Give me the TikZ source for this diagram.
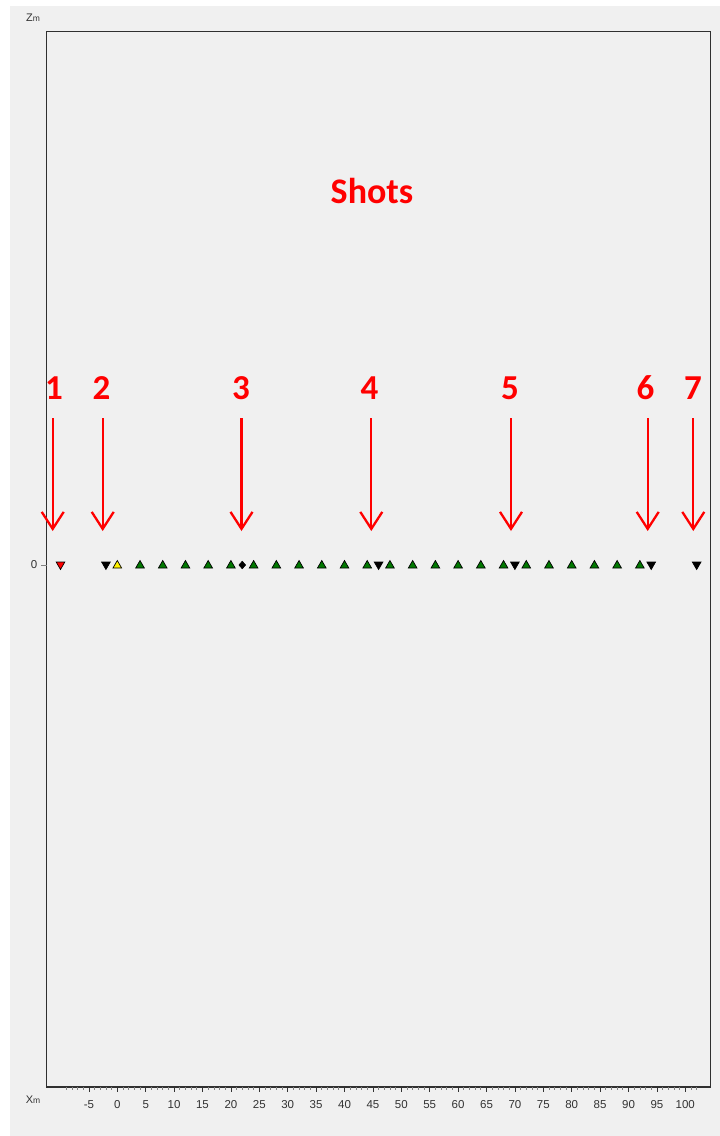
\documentclass[tikz,border=0pt]{standalone}
\usepackage{fontspec}
\setmainfont{Carlito}
\newfontfamily\axisfont{Liberation Sans}
\usetikzlibrary{shapes.geometric,arrows.meta}
\definecolor{bg}{HTML}{F0F0F0}
\definecolor{shotred}{HTML}{FF0000}
\definecolor{geogreen}{HTML}{007800}
\definecolor{axisgray}{HTML}{333333}
\definecolor{framegray}{HTML}{303030}
\begin{document}
\begin{tikzpicture}[x=1pt,y=-1pt,
  geo/.style={regular polygon,regular polygon sides=3,draw=black,fill=geogreen,line width=0.7pt,minimum size=10pt,inner sep=0pt},
  firstgeo/.style={geo,fill=yellow},
  shotmark/.style={regular polygon,regular polygon sides=3,shape border rotate=180,draw=black,fill=black,line width=0.7pt,minimum size=10pt,inner sep=0pt},
  firstshot/.style={shotmark,fill=shotred},
  midshot/.style={diamond,draw=black,fill=black,minimum width=7pt,minimum height=8pt,inner sep=0pt},
  shotnum/.style={text=shotred,font=\bfseries\fontsize{35}{37}\selectfont,inner sep=0pt},
  title/.style={text=shotred,font=\bfseries\fontsize{36}{38}\selectfont,inner sep=0pt},
  shotarrow/.style={draw=shotred,line width=2.3pt,-{Straight Barb[length=17pt,width=22pt,line width=2.3pt]}},
  ticklabel/.style={text=axisgray,font=\axisfont\fontsize{11.5}{13}\selectfont,inner sep=0pt},
  axisname/.style={text=axisgray,font=\axisfont\fontsize{11}{13}\selectfont,inner sep=0pt}
]
\useasboundingbox (0,0) rectangle (720,1136);
\fill[white] (0,0) rectangle (720,1136);
\fill[bg] (10,6) rectangle (720,1136);
% frame
\draw[framegray,line width=1.4pt] (46.7,31.7) rectangle (710.7,1087);
% axis names
\node[axisname] (zm) at (33,18) {Z\fontsize{8.5}{10}\selectfont m};
\node[axisname] (xm) at (33,1100) {X\fontsize{8.5}{10}\selectfont m};
% z axis label
\node[ticklabel] (z0) at (34,564.5) {0};
\draw[gray,line width=0.8pt] (41,565) -- (46.7,565);
% x ticks
\foreach \v in {-9,...,102} \draw[gray,line width=0.7pt] ({117.3+5.68*\v},1087) -- ++(0,3);
\foreach \v in {-5,0,...,100} {
  \draw[axisgray,line width=0.8pt] ({117.3+5.68*\v},1087) -- ++(0,5);
  \node[ticklabel] at ({117.3+5.68*\v},1105) {\v};
}
% title
\node[title] (shots) at (372,191) {Shots};
% geophones
\node[firstgeo] (g0) at (117.3,565.5) {};
\foreach \i in {1,...,23} \node[geo] (g\i) at ({117.3+5.68*4*\i},565.5) {};
% shots
\node[firstshot] (s1) at ({117.3+5.68*(-10)},564.5) {};
\node[shotmark] (s2) at ({117.3+5.68*(-2)},564.5) {};
\node[midshot] (s3) at ({117.3+5.68*22},565) {};
\node[shotmark] (s4) at ({117.3+5.68*46},564.5) {};
\node[shotmark] (s5) at ({117.3+5.68*70},564.5) {};
\node[shotmark] (s6) at ({117.3+5.68*94},564.5) {};
\node[shotmark] (s7) at ({117.3+5.68*102},564.5) {};
% shot numbers and arrows
\foreach \n/\lx/\ax in {1/54/52.7,2/101.5/102.7,3/241/241.5,4/369.5/371.3,5/510/511,6/645.5/647.7,7/693/693.3} {
  \node[shotnum] (n\n) at (\lx,388) {\n};
  \coordinate (a\n s) at (\ax,418);
  \coordinate (a\n e) at (\ax,531);
  \draw[shotarrow] (a\n s) -- (a\n e);
}
\end{tikzpicture}
\end{document}
